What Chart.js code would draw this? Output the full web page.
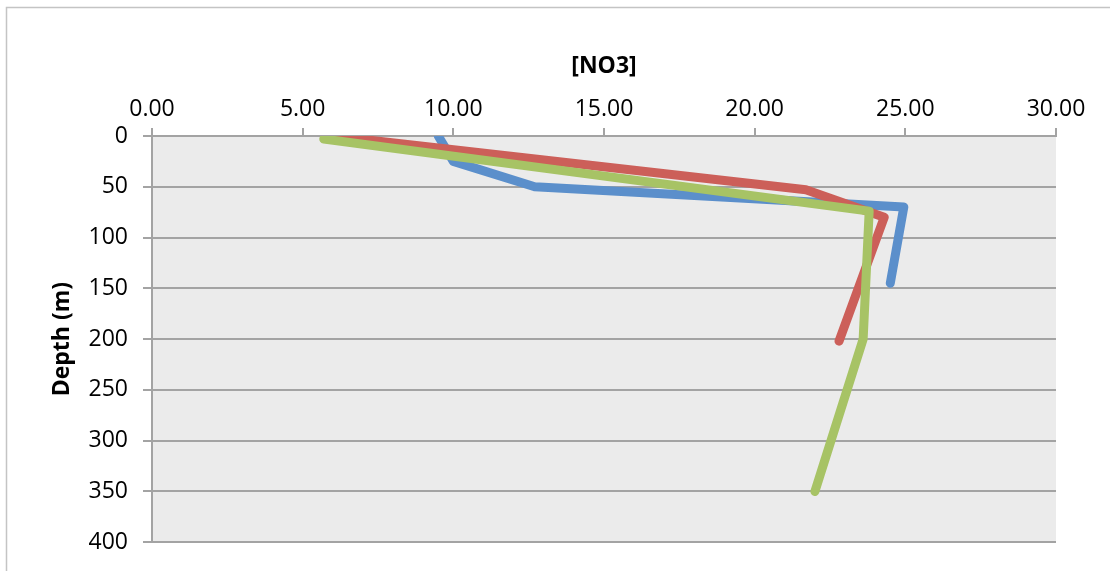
<!DOCTYPE html>
<html>
<head>
<meta charset="utf-8">
<title>[NO3] depth profile</title>
<script src="https://cdn.jsdelivr.net/npm/chart.js@4"></script>
<style>
  html, body { margin: 0; padding: 0; background: #fff; }
  #wrap { width: 1110px; height: 571px; }
</style>
</head>
<body>
<div id="wrap"><canvas id="chartNO3"></canvas></div>
<script>
// nitrate (x) against depth (y), one profile per station
var blueNO3 = [9.5, 10.0, 12.7, 24.95, 24.5];
var blueDepth = [0, 25, 50, 70, 145];

var redNO3 = [6.0, 21.7, 24.3, 22.8];
var redDepth = [0, 53, 80, 202];

var greenNO3 = [5.7, 23.8, 23.6, 22.0];
var greenDepth = [3, 74, 200, 350];

var no3Ticks = [0, 5, 10, 15, 20, 25, 30];
var depthTicks = [0, 50, 100, 150, 200, 250, 300, 350, 400];

function pairs(xs, ys) {
  return xs.map(function (x, i) { return { x: x, y: ys[i] }; });
}

var gridGrey = "#a3a3a3";
var fontFamily = "'Open Sans', 'Noto Sans', sans-serif";

var profileLine = function (label, xs, ys, color, order) {
  return {
    label: label,
    data: pairs(xs, ys),
    showLine: true,
    borderColor: color,
    backgroundColor: color,
    borderWidth: 9,
    borderCapStyle: "round",
    borderJoinStyle: "round",
    pointRadius: 0,
    pointHoverRadius: 0,
    tension: 0,
    order: order
  };
};

var chartFrame = {
  id: "chartFrame",
  beforeDraw: function (chart) {
    var ctx = chart.ctx,
        area = chart.chartArea;
    ctx.save();
    // plot area fill
    ctx.fillStyle = "#ebebeb";
    ctx.fillRect(area.left, area.top, area.right - area.left, area.bottom - area.top);
    // outer frame, top and left edges only
    ctx.strokeStyle = "#c4c4c4";
    ctx.lineWidth = 1.5;
    ctx.beginPath();
    ctx.moveTo(6.5, 571);
    ctx.lineTo(6.5, 7.5);
    ctx.lineTo(1110, 7.5);
    ctx.stroke();
    ctx.restore();
  }
};

var chartNO3 = document.getElementById("chartNO3");
if (chartNO3) {
  var myChart = new Chart(chartNO3, {
    type: "scatter",
    data: {
      datasets: [
        profileLine("Station 1", blueNO3, blueDepth, "#5b8fcb", 2),
        profileLine("Station 2", redNO3, redDepth, "#cc5f59", 1),
        profileLine("Station 3", greenNO3, greenDepth, "#a7c365", 0)
      ]
    },
    plugins: [chartFrame],
    options: {
      responsive: true,
      maintainAspectRatio: false,
      animation: false,
      layout: {
        padding: { left: 0, top: 0, right: 54, bottom: 28 }
      },
      plugins: {
        legend: { display: false },
        tooltip: { enabled: false }
      },
      scales: {
        x: {
          type: "linear",
          position: "top",
          min: 0,
          max: 30,
          afterBuildTicks: function (axis) {
            axis.ticks = no3Ticks.map(function (v) { return { value: v }; });
          },
          afterFit: function (axis) { axis.height = 136; },
          ticks: {
            color: "#000",
            padding: 5,
            font: { family: fontFamily, size: 23 },
            callback: function (v) { return Number(v).toFixed(2); }
          },
          grid: {
            drawOnChartArea: false,
            drawTicks: true,
            tickLength: 8,
            color: gridGrey,
            lineWidth: 2
          },
          border: { display: true, color: gridGrey, width: 2 },
          title: {
            display: true,
            text: "[NO3]",
            color: "#000",
            padding: { top: 53, bottom: 0 },
            font: { family: fontFamily, size: 23, weight: "bold" }
          }
        },
        y: {
          type: "linear",
          reverse: true,
          min: 0,
          max: 400,
          afterBuildTicks: function (axis) {
            axis.ticks = depthTicks.map(function (v) { return { value: v }; });
          },
          afterFit: function (axis) { axis.width = 152; },
          ticks: {
            color: "#000",
            padding: 15,
            font: { family: fontFamily, size: 23 }
          },
          grid: {
            drawOnChartArea: true,
            drawTicks: true,
            tickLength: 9,
            color: gridGrey,
            lineWidth: 2
          },
          border: { display: true, color: gridGrey, width: 2 },
          title: {
            display: true,
            text: "Depth (m)",
            color: "#000",
            padding: { top: 49, bottom: 0 },
            font: { family: fontFamily, size: 23, weight: "bold" }
          }
        }
      }
    }
  });
}
</script>
</body>
</html>
